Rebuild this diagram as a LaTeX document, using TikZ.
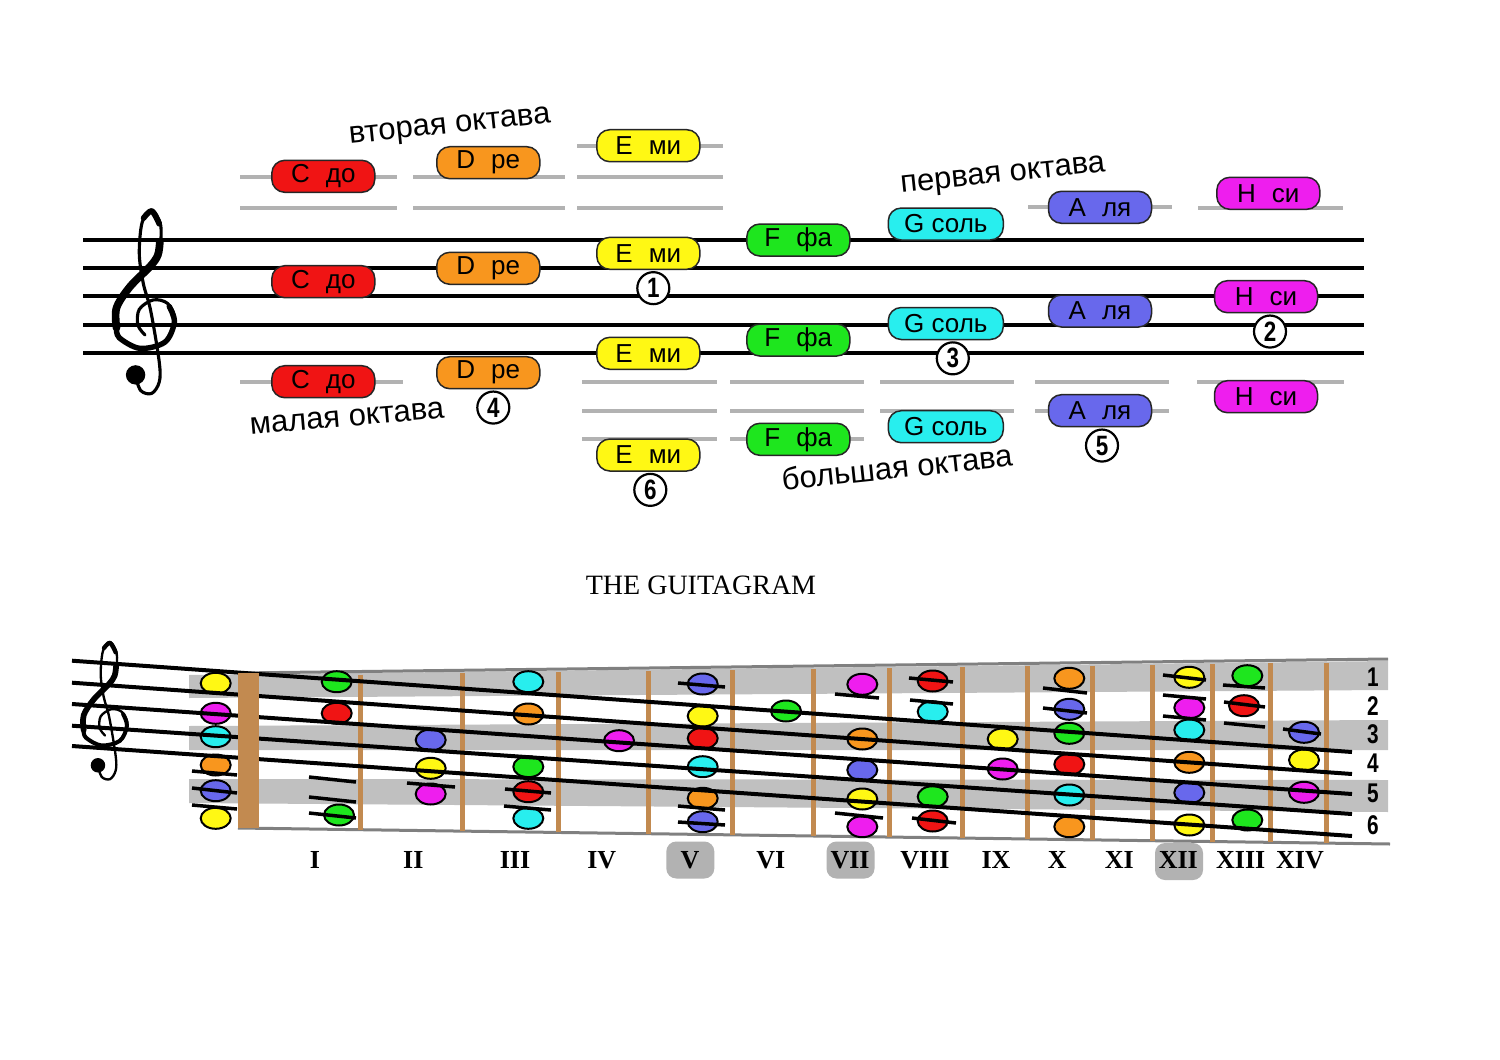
\documentclass[tikz,border=0pt]{standalone}
\usepackage{fontspec}
\usepackage{graphicx}
\setmainfont{Liberation Sans}
\newfontfamily\romanfont{Liberation Serif}
\usetikzlibrary{shapes.geometric,positioning}

\definecolor{noteC}{RGB}{240,20,20}
\definecolor{noteD}{RGB}{248,150,30}
\definecolor{noteE}{RGB}{255,248,20}
\definecolor{noteF}{RGB}{30,230,30}
\definecolor{noteG}{RGB}{40,238,238}
\definecolor{noteA}{RGB}{104,104,236}
\definecolor{noteH}{RGB}{238,30,238}
\definecolor{ledgergray}{RGB}{178,178,178}
\definecolor{bandgray}{RGB}{192,192,192}
\definecolor{fretbrown}{RGB}{194,138,80}

\tikzset{
  staffline/.style={line width=4pt},
  ledger/.style={ledgergray, line width=4pt},
  notebox/.style={draw=black!85, line width=1.5pt, rounded corners=13pt,
    minimum width=103pt, minimum height=32pt, inner sep=0pt,
    font=\fontsize{26}{26}\selectfont},
  stringnum/.style={circle, draw, line width=2.2pt, fill=white, minimum size=32pt,
    inner sep=0pt, font=\bfseries\fontsize{28}{28}\selectfont},
  octave/.style={font=\fontsize{31}{31}\selectfont},
  gnote/.style={ellipse, draw, line width=2pt, minimum width=30pt,
    minimum height=21pt, inner sep=0pt},
  gledger/.style={line width=3.5pt},
  fret/.style={fretbrown, line width=5pt},
  fretnum/.style={font=\romanfont\bfseries\fontsize{26}{26}\selectfont},
  fretmark/.style={fill=black!30, rounded corners=10pt, minimum width=48pt,
    minimum height=37pt, inner sep=0pt},
  rownum/.style={inner sep=0pt, font=\bfseries\fontsize{26}{26}\selectfont},
}

% treble clef: x, y of the G line, staff space
\newcommand{\gclef}[3]{%
  \begin{scope}[shift={(#1,#2)}, x=#3pt, y=#3pt, line cap=round, line join=round]
    % stem, top loop, body and curl
    \draw[line width=#3*0.11pt] plot[smooth, tension=0.55] coordinates {
      (-0.35,-1.75) (-0.15,-2.3) (0.235,-2.4) (0.5,-2.0) (0.5,-1.3) (0.2,0.5)
      (-0.06,1.46) (-0.2,2.5) (-0.1,3.6) (0.235,4.04) (0.55,3.5) (0.5,2.6)
      (0.175,2.05) (-0.53,1.34) (-1.05,0.55) (-0.95,-0.35) (-0.175,-0.82)
      (0.7,-0.6) (1.05,0.175) (0.8,0.75) (0.29,0.88) (-0.2,0.55) (-0.25,0.0)
      (0.0,-0.35)};
    % thick parts
    \draw[line width=#3*0.27pt] plot[smooth, tension=0.55] coordinates {
      (0.52,2.9) (0.45,2.45) (0.175,2.05) (-0.53,1.34) (-1.0,0.6) (-1.0,-0.1)};
    \draw[line width=#3*0.19pt] plot[smooth, tension=0.55] coordinates {
      (-1.0,-0.1) (-0.9,-0.45) (-0.175,-0.82) (0.7,-0.6) (1.03,0.1) (0.85,0.65)};
    \draw[line width=#3*0.2pt] plot[smooth, tension=0.55] coordinates {
      (-0.05,3.75) (0.235,4.0) (0.5,3.55)};
    \fill (-0.33,-1.75) circle (0.34);
  \end{scope}}

\begin{document}
\begin{tikzpicture}[x=1pt, y=-1pt]
  \useasboundingbox (0,0) rectangle (1500,1060);
  \fill[white] (0,0) rectangle (1500,1060);

  % ---------- upper staff ----------
  % ledger lines
  \foreach \xa/\xb/\y in {240/397/177, 240/397/208.3, 240/403/381.7,
      413/565/177, 413/565/208.3,
      577/723/145.7, 577/723/177, 577/723/208.3,
      582/717/381.7, 582/717/410.5, 582/717/439.3,
      730/864/381.7, 730/864/410.5, 730/864/439.3,
      880/1014/381.7, 880/1014/410.5,
      1028/1172/207.3, 1035/1169/381.7, 1035/1169/410.7,
      1198/1343/208.3, 1197/1344/381.7}
    \draw[ledger] (\xa,\y) -- (\xb,\y);
  % staff
  \foreach \y in {240,268,296,325,353}
    \draw[staffline] (83,\y) -- (1364,\y);
  \gclef{145}{325}{28.5}

  % notes
  \foreach \n/\x/\y/\a/\b in {C1/323.3/176.3/C/до, C2/323.3/281.7/C/до, C3/323.3/381.7/C/до,
      D1/488.3/162.7/D/ре, D2/488.3/268.3/D/ре, D3/488.3/372.7/D/ре,
      E1/648.3/145.7/E/ми, E2/648.3/253.3/E/ми, E3/648.3/353.3/E/ми, E4/648.3/455/E/ми,
      F1/798.3/240/F/фа, F2/798.3/340/F/фа, F3/798.3/439.3/F/фа,
      A1/1100/207.3/A/ля, A2/1100/311/A/ля, A3/1100/410.7/A/ля,
      H1/1268.3/193.3/H/си, H2/1266/296.7/H/си, H3/1266/396.7/H/си}
    \node[notebox, fill=note\a] (\n) at (\x,\y) {\a\hspace{16pt}\b};
  \foreach \n/\y in {G1/224, G2/323.5, G3/426.7}
    \node[notebox, fill=noteG, minimum width=115pt] (\n) at (945.8,\y) {G соль};

  % string numbers
  \node[stringnum, below=1pt of E2, xshift=5pt] (s1) {\scalebox{0.8}[1]{1}};
  \node[stringnum, below=1pt of H2, xshift=4pt] (s2) {\scalebox{0.8}[1]{2}};
  \node[stringnum, below=1pt of G2, xshift=7pt] (s3) {\scalebox{0.8}[1]{3}};
  \node[stringnum, below=1pt of D3, xshift=5pt] (s4) {\scalebox{0.8}[1]{4}};
  \node[stringnum, below=1pt of A3, xshift=2pt] (s5) {\scalebox{0.8}[1]{5}};
  \node[stringnum, below=1pt of E4, xshift=2pt] (s6) {\scalebox{0.8}[1]{6}};

  % octave names
  \node[octave, rotate=6] (vtoraya) at (450,128) {вторая октава};
  \node[octave, rotate=5] (malaya) at (347,418) {малая октава};
  \node[octave, rotate=6] (pervaya) at (1003,177) {первая октава};
  \node[octave, rotate=6] (bolshaya) at (897,467) {большая октава};

  \node (title) at (701,585) {\romanfont\fontsize{28}{28}\selectfont THE GUITAGRAM};

  % ---------- guitagram ----------
  % strings 1, 3, 5
  \fill[bandgray] (189,675) -- (1388,661) -- (1388,690) -- (189,698) -- cycle;
  \fill[bandgray] (189,726) -- (1388,720) -- (1388,750) -- (189,750) -- cycle;
  \fill[bandgray] (189,779) -- (1388,780) -- (1388,812) -- (189,803) -- cycle;
  % neck edges
  \draw[black!50, line width=3pt] (238,673) -- (1388,659);
  \draw[black!50, line width=3pt] (238,828) -- (1390,844);
  % frets
  \foreach \x in {360,462,558,648,732,813,889,962,1027,1092,1152,1212,1270,1326}
    \draw[fret] (\x,{676-(\x-238)/1150*14}) -- (\x,{828+(\x-238)/1150*16});

  % notes on the neck
  \foreach \x/\y/\c [count=\i] in {215.7/683.3/E, 215.7/713.3/H, 215.7/736.7/G,
      215.7/765/D, 215.7/790.7/A, 215.7/818.3/E,
      336.7/681.7/F, 336.7/713.3/C, 339/815/F,
      430.7/740/A, 430.7/768.3/E, 430.7/794/H,
      528.3/681.7/G, 528.3/714/D, 528.3/766.7/F, 528.3/791.7/C, 528.3/818.3/G,
      619/740.7/H,
      702.7/684/A, 702.7/716/E, 702.7/738.3/C, 702.7/766.7/G, 702.7/798.3/D, 702.7/821.7/A,
      786/711/F,
      862.3/684.3/H, 862.3/739/D, 862.3/770/A, 862.3/799/E, 862.3/826.7/H,
      932.7/681/C, 932.7/711.7/G, 932.7/796.7/F, 932.7/821/C,
      1002.7/739/E, 1002.7/769/H,
      1069.3/678.3/D, 1069.3/709.3/A, 1069.3/733.3/F, 1069.3/764.3/C, 1069.3/795/G, 1069.3/826.7/D,
      1189.3/677.3/E, 1189.3/707.7/H, 1189.3/730/G, 1189.3/762.3/D, 1189.3/792.7/A, 1189.3/825/E,
      1247.3/675.7/F, 1244/705.7/C, 1247.3/820/F,
      1304/732.3/A, 1304/760/E, 1304/792.3/H}
    \node[gnote, fill=note\c] (g\i) at (\x,\y) {};

  % slanted staff
  \foreach \ya/\yb in {660.7/752, 682.7/774, 704/794, 725.7/814, 746/836}
    \draw[staffline] (72,\ya) -- (1352,\yb);
  % short ledger lines
  \foreach \xa/\ya/\xb/\yb in {192/771/237/775, 192/788/237/793, 192/805/237/809,
      309/777/356/782, 309/797/356/802, 309/813/356/818,
      407/783/455/787,
      505/789/551/793, 504/806/551/810,
      678/683/725/687, 678/806/725/810, 678/822/725/825,
      835/694/879/698, 835/813/883/818,
      909/678/953/682, 910/700/953/704, 912/818/956/823,
      1043/688/1087/693, 1043/708/1087/713,
      1163/675/1206/680, 1163/695/1206/699, 1163/716/1206/720,
      1223/685/1265/688, 1224/702/1265/707, 1224/723/1265/727,
      1283/729/1321/734}
    \draw[gledger] (\xa,\ya) -- (\xb,\yb);
  % nut
  \fill[fretbrown] (238,673) rectangle (259,828);
  \gclef{105}{728}{21.3}

  % fret numbers
  \node[fretmark] (m5) at (690.3,860) {};
  \node[fretmark] (m7) at (850.5,860) {};
  \node[fretmark] (m12) at (1179,861.5) {};
  \foreach \x/\t [count=\i] in {315/I, 413.3/II, 515/III, 601.7/IV, 690/V, 770.7/VI,
      850/VII, 925/VIII, 996/IX, 1057.3/X, 1119.3/XI, 1178.3/XII, 1240.7/XIII, 1300/XIV}
    \node[fretnum] (f\i) at (\x,860) {\t};

  % string numbers on the right
  \foreach \y [count=\i] in {676.7,706,734,763.3,793.3,825}
    \node[rownum] (r\i) at (1373,\y) {\scalebox{0.8}[1.04]{\i}};
\end{tikzpicture}
\end{document}
